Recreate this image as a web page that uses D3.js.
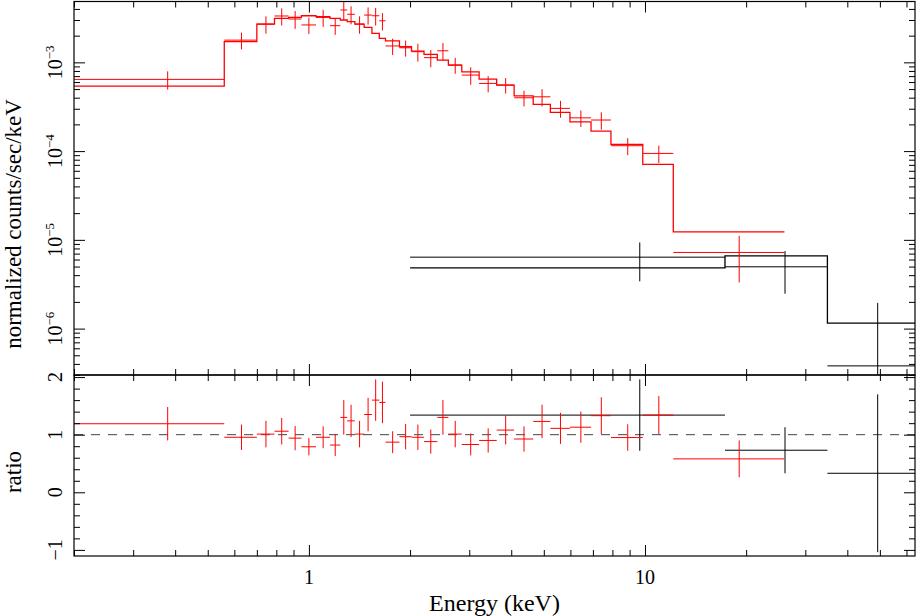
<!DOCTYPE html>
<html>
<head>
<meta charset="utf-8">
<script src="https://cdn.jsdelivr.net/npm/d3@7"></script>
<style>
  body { margin: 0; background: #fff; }
  svg text { font-family: 'Liberation Serif', 'Times New Roman', serif; fill: #000; }
</style>
</head>
<body>
<div id="chart"></div>
<script>
// energy bin edges (keV) and values
const redEdges = [0.20, 0.56, 0.70, 0.79, 0.87, 0.95, 1.05, 1.155, 1.24, 1.30, 1.37, 1.46, 1.54, 1.62, 1.69, 1.86,
  2.02, 2.20, 2.41, 2.60, 2.85, 3.21, 3.62, 4.08, 4.65, 5.23, 5.98, 6.91, 7.92, 9.85, 12.14, 26.0]
const redCounts = [6.43e-4, 1.78e-3, 2.70e-3, 3.33e-3, 3.08e-3, 2.64e-3, 3.21e-3, 2.59e-3, 3.89e-3, 3.48e-3,
  2.70e-3, 3.41e-3, 3.35e-3, 2.94e-3, 1.53e-3, 1.46e-3, 1.32e-3, 1.13e-3, 1.35e-3, 9.33e-4,
  7.19e-4, 5.79e-4, 5.55e-4, 3.99e-4, 4.09e-4, 3.03e-4, 2.37e-4, 2.24e-4, 1.15e-4, 9.42e-5, 7.21e-6]
const redCountErr = [1.5e-4, 3.8e-4, 6.0e-4, 7.3e-4, 7.0e-4, 5.5e-4, 7.0e-4, 5.5e-4, 9.0e-4, 8.0e-4,
  6.0e-4, 7.5e-4, 7.5e-4, 6.5e-4, 3.2e-4, 3.0e-4, 3.0e-4, 2.5e-4, 3.0e-4, 1.9e-4,
  1.6e-4, 1.2e-4, 1.1e-4, 8.0e-5, 9.0e-5, 6.5e-5, 5.0e-5, 5.0e-5, 2.5e-5, 2.1e-5, 3.9e-6]
const redModel = [5.41e-4, 1.715e-3, 2.70e-3, 3.13e-3, 3.21e-3, 3.35e-3, 3.27e-3, 3.13e-3, 3.00e-3, 2.87e-3,
  2.70e-3, 2.48e-3, 2.12e-3, 1.865e-3, 1.75e-3, 1.50e-3, 1.34e-3, 1.23e-3, 1.06e-3, 9.3e-4,
  7.83e-4, 6.48e-4, 5.55e-4, 4.20e-4, 3.36e-4, 2.73e-4, 2.14e-4, 1.68e-4, 1.19e-4, 7.08e-5, 1.23e-5]
const redRatio = [1.19, 0.955, 1.01, 1.06, 0.94, 0.79, 0.955, 0.82, 1.30, 1.24,
  1.01, 1.35, 1.60, 1.56, 0.87, 0.965, 0.955, 0.88, 1.30, 1.01,
  0.83, 0.90, 1.08, 0.925, 1.23, 1.11, 1.13, 1.33, 0.95, 1.34, 0.58]
const redRatioErr = [0.29, 0.22, 0.23, 0.23, 0.21, 0.15, 0.19, 0.19, 0.30, 0.28,
  0.23, 0.29, 0.36, 0.36, 0.19, 0.22, 0.22, 0.21, 0.30, 0.23,
  0.19, 0.21, 0.25, 0.22, 0.29, 0.27, 0.27, 0.32, 0.23, 0.33, 0.32]

const blackEdges = [2.0, 17.3, 34.9, 63.6]
const blackCounts = [6.38e-6, 4.97e-6, 3.8e-7]
const blackCountErr = [2.97e-6, 2.5e-6, 1.57e-6]
const blackModel = [4.83e-6, 6.61e-6, 1.15e-6]
const blackRatio = [1.34, 0.73, 0.33]
const blackRatioErr = [0.62, 0.40, 1.37]

const xLabelTicks = [1, 10]
const xLabelText = ['1', '10']
const fluxLabelTicks = [1e-6, 1e-5, 1e-4, 1e-3]
const fluxLabelExp = ['\u22126', '\u22125', '\u22124', '\u22123']
const ratioLabelTicks = [-1, 0, 1, 2]
const ratioLabelText = ['\u22121', '0', '1', '2']

let width = 916
let height = 616
let plotLeft = 74
let plotRight = 915
let topY = 1.5
let splitY = 375
let bottomY = 556

let xScale = d3.scaleLog().domain([0.2, 63.6]).range([plotLeft, plotRight])
let yFlux = d3.scaleLog().domain([3e-7, 4.85e-3]).range([splitY, topY])
let yRatio = d3.scaleLinear().domain([-1.106, 2.036]).range([bottomY, splitY])

function translation (x, y) {
  return 'translate(' + x + ',' + y + ')'
}

function makeBins (edges, val, err, model) {
  return d3.range(val.length).map(function (i) {
    return { lo: edges[i], hi: edges[i + 1], v: val[i], e: err[i], m: model ? model[i] : null }
  })
}

let svg = d3.select('#chart').append('svg')
  .attr('width', width)
  .attr('height', height)

svg.append('rect').attr('width', width).attr('height', height).attr('fill', '#fff')

let defs = svg.append('defs')
defs.append('clipPath').attr('id', 'clipTop')
  .append('rect').attr('x', plotLeft).attr('y', topY).attr('width', plotRight - plotLeft).attr('height', splitY - topY)
defs.append('clipPath').attr('id', 'clipBottom')
  .append('rect').attr('x', plotLeft).attr('y', splitY).attr('width', plotRight - plotLeft).attr('height', bottomY - splitY)

// crosses: horizontal bar = bin width, vertical bar = error, at linear bin centre
function drawCrosses (g, bins, yScale, color, floor) {
  let grp = g.append('g').attr('stroke', color).attr('stroke-width', 1).attr('fill', 'none')
  bins.forEach(function (d) {
    let xc = xScale((d.lo + d.hi) / 2)
    grp.append('line')
      .attr('x1', xScale(d.lo)).attr('x2', xScale(d.hi))
      .attr('y1', yScale(d.v)).attr('y2', yScale(d.v))
    let low = d.v - d.e
    if (floor !== undefined && low < floor) low = floor
    grp.append('line')
      .attr('x1', xc).attr('x2', xc)
      .attr('y1', yScale(low)).attr('y2', yScale(d.v + d.e))
  })
}

function drawModel (g, bins, color) {
  let pts = []
  bins.forEach(function (d) {
    pts.push([d.lo, d.m])
    pts.push([d.hi, d.m])
  })
  let line = d3.line()
    .x(function (p) { return xScale(p[0]) })
    .y(function (p) { return yFlux(p[1]) })
  g.append('path')
    .attr('d', line(pts))
    .attr('fill', 'none')
    .attr('stroke', color)
    .attr('stroke-width', 1.3)
}

let redBins = makeBins(redEdges, redCounts, redCountErr, redModel)
let blackBins = makeBins(blackEdges, blackCounts, blackCountErr, blackModel)
let redRatioBins = makeBins(redEdges, redRatio, redRatioErr)
let blackRatioBins = makeBins(blackEdges, blackRatio, blackRatioErr)

// TOP PANEL
let topG = svg.append('g').attr('clip-path', 'url(#clipTop)')
drawModel(topG, blackBins, '#000')
drawCrosses(topG, blackBins, yFlux, '#000', 1e-7)
drawModel(topG, redBins, '#ff0000')
drawCrosses(topG, redBins, yFlux, '#ff0000', 1e-7)

// BOTTOM PANEL
let botG = svg.append('g').attr('clip-path', 'url(#clipBottom)')
botG.append('line')
  .attr('x1', plotLeft).attr('x2', plotRight)
  .attr('y1', yRatio(1)).attr('y2', yRatio(1))
  .attr('stroke', '#444')
  .attr('stroke-width', 1)
  .attr('stroke-dasharray', '9,8')
drawCrosses(botG, blackRatioBins, yRatio, '#000')
drawCrosses(botG, redRatioBins, yRatio, '#ff0000')

// TICKS
function tickRow (axisGen, scale, values, size, x, y) {
  svg.append('g')
    .attr('transform', translation(x, y))
    .style('color', '#000')
    .call(axisGen(scale).tickValues(values).tickSize(-size).tickFormat(''))
    .call(function (s) { s.select('.domain').remove() })
}

function logMinors (scale) {
  let dom = scale.domain()
  let out = []
  for (let p = -8; p <= 2; p++) {
    for (let k = 2; k <= 9; k++) {
      let v = k * Math.pow(10, p)
      if (v >= dom[0] * 0.999 && v <= dom[1]) out.push(v)
    }
  }
  return out
}

let xMinor = logMinors(xScale)
let fluxMinor = logMinors(yFlux)
let ratioMinor = d3.range(-1.0, 2.01, 0.2).filter(function (v) { return Math.abs(v - Math.round(v)) > 0.01 })

let tickMajor = 11
let tickMinor = 6

// x ticks on all four horizontal edges
;[[d3.axisTop, topY], [d3.axisBottom, splitY], [d3.axisTop, splitY], [d3.axisBottom, bottomY]].forEach(function (t) {
  tickRow(t[0], xScale, xMinor, tickMinor, 0, t[1])
  tickRow(t[0], xScale, xLabelTicks, tickMajor, 0, t[1])
})

tickRow(d3.axisLeft, yFlux, fluxMinor, tickMinor, plotLeft, 0)
tickRow(d3.axisLeft, yFlux, fluxLabelTicks, tickMajor, plotLeft, 0)
tickRow(d3.axisRight, yFlux, fluxMinor, tickMinor, plotRight, 0)
tickRow(d3.axisRight, yFlux, fluxLabelTicks, tickMajor, plotRight, 0)

tickRow(d3.axisLeft, yRatio, ratioMinor, tickMinor, plotLeft, 0)
tickRow(d3.axisLeft, yRatio, ratioLabelTicks, tickMajor, plotLeft, 0)
tickRow(d3.axisRight, yRatio, ratioMinor, tickMinor, plotRight, 0)
tickRow(d3.axisRight, yRatio, ratioLabelTicks, tickMajor, plotRight, 0)

// FRAMES
svg.append('rect')
  .attr('x', plotLeft).attr('y', topY)
  .attr('width', plotRight - plotLeft).attr('height', splitY - topY)
  .attr('fill', 'none').attr('stroke', '#000').attr('stroke-width', 1.2)
svg.append('rect')
  .attr('x', plotLeft).attr('y', splitY)
  .attr('width', plotRight - plotLeft).attr('height', bottomY - splitY)
  .attr('fill', 'none').attr('stroke', '#000').attr('stroke-width', 1.2)

// TICK LABELS
fluxLabelTicks.forEach(function (v, i) {
  let t = svg.append('text')
    .attr('transform', translation(62, yFlux(v)) + ' rotate(-90)')
    .attr('text-anchor', 'middle')
    .style('font-size', '20px')
  t.append('tspan').text('10')
  t.append('tspan').attr('dy', -8).style('font-size', '13px').text(fluxLabelExp[i])
})

ratioLabelTicks.forEach(function (v, i) {
  svg.append('text')
    .attr('transform', translation(62, yRatio(v)) + ' rotate(-90)')
    .attr('text-anchor', 'middle')
    .style('font-size', '20px')
    .text(ratioLabelText[i])
})

xLabelTicks.forEach(function (v, i) {
  svg.append('text')
    .attr('x', xScale(v))
    .attr('y', 584)
    .attr('text-anchor', 'middle')
    .style('font-size', '20px')
    .text(xLabelText[i])
})

// AXIS TITLES
svg.append('text')
  .attr('x', (plotLeft + plotRight) / 2)
  .attr('y', 611)
  .attr('text-anchor', 'middle')
  .style('font-size', '24px')
  .text('Energy (keV)')

svg.append('text')
  .attr('transform', translation(21, 224) + ' rotate(-90)')
  .attr('text-anchor', 'middle')
  .style('font-size', '23px')
  .text('normalized counts/sec/keV')

svg.append('text')
  .attr('transform', translation(21, 472) + ' rotate(-90)')
  .attr('text-anchor', 'middle')
  .style('font-size', '23px')
  .text('ratio')
</script>
</body>
</html>
